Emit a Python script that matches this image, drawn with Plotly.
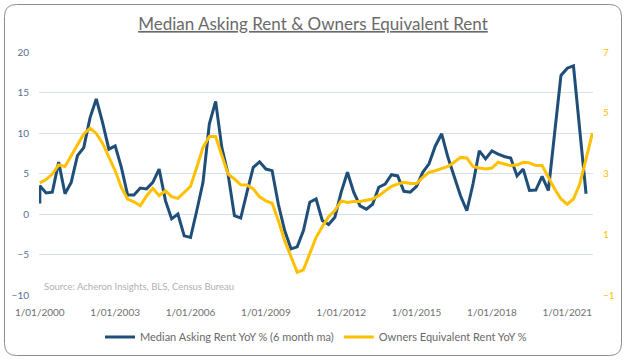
import pandas as pd
import plotly.graph_objects as go

# ---- data ----
quarters = pd.date_range("2000-01-01", periods=89, freq="QS")

asking_rent_start = [1.3]  # value at the very first plotted instant (left edge)
asking_rent_yoy = [
    3.5, 2.6, 2.7, 6.4, 2.5, 3.9, 7.2, 8.2, 11.9, 14.2,
    11.3, 8.0, 8.4, 5.75, 2.35, 2.35, 3.2, 3.1, 3.9, 5.55,
    1.65, -0.6, 0.0, -2.7, -2.9, 0.4, 3.9, 11.1, 13.9, 8.2,
    4.9, -0.2, -0.5, 2.7, 5.75, 6.45, 5.55, 5.35, 1.2, -2.05,
    -4.3, -4.05, -2.05, 1.45, 1.85, -0.8, -1.3, -0.4, 2.7, 5.15,
    2.7, 1.0, 0.6, 1.2, 3.3, 3.7, 4.85, 4.7, 2.8, 2.7,
    3.4, 5.15, 6.2, 8.4, 9.9, 7.0, 4.5, 2.25, 0.4, 3.7,
    7.8, 6.8, 7.8, 7.4, 7.1, 6.9, 4.7, 5.55, 2.9, 2.95,
    4.65, 2.9, 10.0, 17.1, 18.0, 18.3, 10.4, 2.5,
]

oer_yoy = [
    2.69, 2.80, 2.98, 3.28, 3.23, 3.59, 3.92, 4.30, 4.49, 4.32,
    4.00, 3.53, 3.09, 2.54, 2.16, 2.07, 1.94, 2.26, 2.51, 2.27,
    2.43, 2.24, 2.18, 2.38, 2.58, 3.20, 3.86, 4.22, 4.22, 3.59,
    2.98, 2.82, 2.63, 2.62, 2.49, 2.23, 2.10, 2.02, 1.45, 0.79,
    0.29, -0.25, -0.17, 0.35, 0.90, 1.25, 1.58, 1.78, 2.10, 2.05,
    2.08, 2.08, 2.12, 2.16, 2.27, 2.43, 2.58, 2.65, 2.71, 2.67,
    2.67, 2.87, 3.04, 3.09, 3.17, 3.23, 3.37, 3.53, 3.51, 3.23,
    3.18, 3.15, 3.18, 3.37, 3.31, 3.26, 3.28, 3.37, 3.35, 3.26,
    3.26, 2.87, 2.49, 2.16, 1.99, 2.16, 2.65, 3.48, 4.33,
]

x_tick_dates = ["2000-01-01", "2003-01-01", "2006-01-01", "2009-01-01",
                "2012-01-01", "2015-01-01", "2018-01-01", "2021-01-01"]
x_tick_labels = ["1/01/2000", "1/01/2003", "1/01/2006", "1/01/2009",
                 "1/01/2012", "1/01/2015", "1/01/2018", "1/01/2021"]
left_ticks = [-10, -5, 0, 5, 10, 15, 20]
right_ticks = [-1, 1, 3, 5, 7]

BLUE = "#1F4E79"
YELLOW = "#FFC000"
FONT = "Lato"

blue_x = [quarters[0]] + list(quarters[:len(asking_rent_yoy)])
blue_y = asking_rent_start + asking_rent_yoy

fig = go.Figure()
fig.add_trace(go.Scatter(
    x=blue_x, y=blue_y, mode="lines", name="Median Asking Rent YoY % (6 month ma)",
    line=dict(color=BLUE, width=3), yaxis="y"))
fig.add_trace(go.Scatter(
    x=list(quarters[:len(oer_yoy)]), y=oer_yoy, mode="lines",
    name="Owners Equivalent Rent YoY %",
    line=dict(color=YELLOW, width=3), yaxis="y2"))

W, H = 626, 360
ML, MR, MT, MB = 39, 33, 52, 65
pw, ph = W - ML - MR, H - MT - MB


def px(x):
    return (x - ML) / pw


def py(y):
    return (H - MB - y) / ph


# rounded chart border
x0, x1, y0, y1, r = 4.5, 621.5, 4.5, 355.5, 12
path = (
    f"M {px(x0 + r)},{py(y0)} L {px(x1 - r)},{py(y0)} "
    f"Q {px(x1)},{py(y0)} {px(x1)},{py(y0 + r)} "
    f"L {px(x1)},{py(y1 - r)} Q {px(x1)},{py(y1)} {px(x1 - r)},{py(y1)} "
    f"L {px(x0 + r)},{py(y1)} Q {px(x0)},{py(y1)} {px(x0)},{py(y1 - r)} "
    f"L {px(x0)},{py(y0 + r)} Q {px(x0)},{py(y0)} {px(x0 + r)},{py(y0)} Z"
)

fig.update_layout(
    width=W, height=H,
    margin=dict(l=ML, r=MR, t=MT, b=MB, autoexpand=False),
    paper_bgcolor="white", plot_bgcolor="white",
    font=dict(family=FONT, color="#595959"),
    title=dict(
        text="<u>Median Asking Rent &amp; Owners Equivalent Rent</u>",
        x=0.5, xref="container", xanchor="center",
        y=1 - 24 / H, yref="container", yanchor="middle",
        font=dict(family=FONT, size=17, color="#6a6a6a")),
    xaxis=dict(
        type="date", range=["1999-12-20", "2022-01-10"],
        tickvals=x_tick_dates, ticktext=x_tick_labels, tickangle=0,
        showgrid=False, zeroline=False, showline=False, ticks="",
        automargin=False,
        tickfont=dict(family=FONT, size=10, color="#6f6f6f"),
        ticklabelstandoff=10),
    yaxis=dict(
        range=[-10, 20], tickvals=left_ticks, automargin=False,
        showgrid=True, gridcolor="#D5E1EE", gridwidth=1,
        zeroline=False, showline=False, ticks="",
        tickfont=dict(family=FONT, size=10, color="#56708f"),
        ticklabelstandoff=9),
    yaxis2=dict(
        range=[-1, 7], tickvals=right_ticks, overlaying="y", side="right",
        showgrid=False, zeroline=False, showline=False, ticks="",
        automargin=False,
        tickfont=dict(family=FONT, size=10, color=YELLOW),
        ticklabelstandoff=9),
    legend=dict(
        orientation="h", x=px(316), xref="paper", xanchor="center",
        y=py(337), yref="paper", yanchor="middle",
        font=dict(family=FONT, size=11, color="#6a6a6a"),
        bgcolor="rgba(0,0,0,0)"),
    showlegend=True,
    shapes=[dict(type="path", path=path, xref="paper", yref="paper",
                 line=dict(color="#8c8c8c", width=1), layer="below")],
    annotations=[dict(
        text="Source: Acheron Insights, BLS, Census Bureau",
        x=px(42), y=py(286), xref="paper", yref="paper",
        xanchor="left", yanchor="middle", showarrow=False,
        font=dict(family=FONT, size=9.5, color="#b0b0b0"))],
)

fig.write_html("out.html",
               config={"displayModeBar": False},
               post_script="document.body.style.margin='0px';"
                           "document.body.style.overflow='hidden';")
